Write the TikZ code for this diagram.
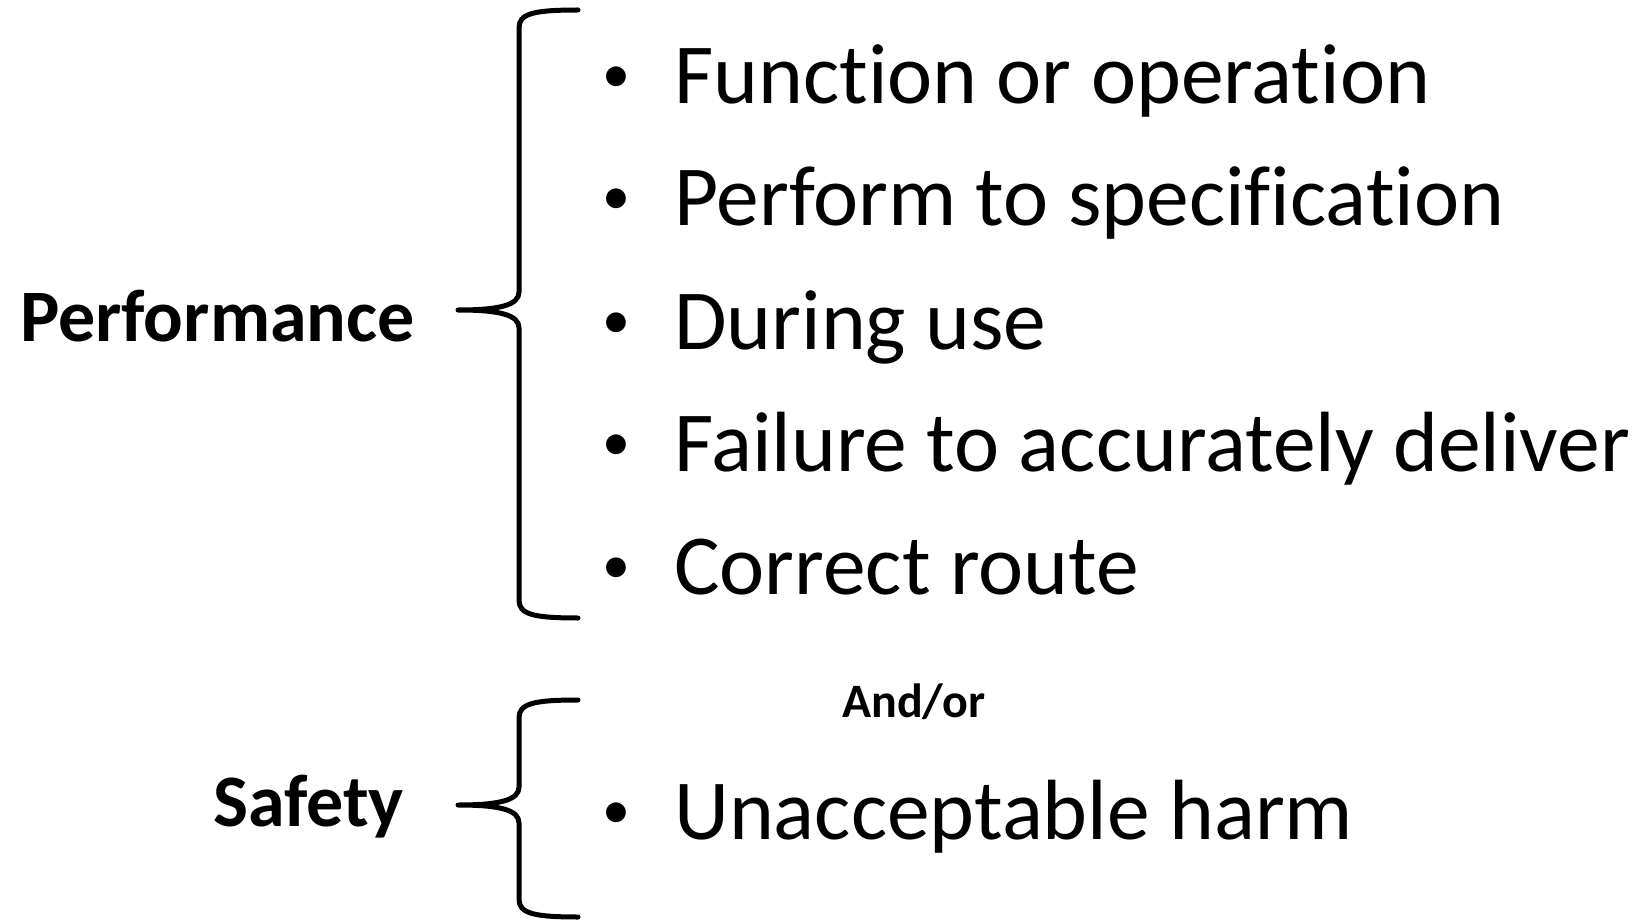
\documentclass[tikz,border=0pt]{standalone}
\usepackage{fontspec}
\setmainfont[Ligatures=NoCommon]{Carlito}
\begin{document}
\begin{tikzpicture}[x=1pt,y=-1pt,
  item/.style={anchor=base west,inner sep=0pt,font=\fontsize{85.5}{100}\selectfont},
  bul/.style={anchor=base,inner sep=0pt,font=\fontsize{56}{60}\selectfont},
  head/.style={anchor=base east,inner sep=0pt,font=\fontsize{74}{90}\selectfont\bfseries},
  brace/.style={line width=5pt,line cap=round,line join=round}]
\useasboundingbox (0,0) rectangle (1634,920);
% items
\foreach \n/\y/\t in {1/104/Function or operation,2/226/Perform to specification,3/349/During use,4/471/Failure to accurately deliver,5/594/Correct route,6/839/Unacceptable harm}{
  \node[bul] (b\n) at (616,\y-11) {•};
  \node[item] (i\n) at (674,\y) {\t};
}
\node[head] (perf) at (415,341) {Performance};
\node[head] (saf) at (404,826) {Safety};
\node[anchor=base west,inner sep=0pt,font=\fontsize{48}{60}\selectfont\bfseries] (andor) at (842,717) {And/or};
% braces
\coordinate (t1) at (458,310);
\coordinate (t2) at (458,805);
\draw[brace] (578,10) .. controls (532,10) and (519,14) .. (519,28) -- (519,292)
  .. controls (519,305) and (500,310) .. (t1)
  .. controls (500,310) and (519,315) .. (519,328) -- (519,600)
  .. controls (519,614) and (532,618) .. (578,618);
\draw[brace] (578,700) .. controls (532,700) and (519,704) .. (519,718) -- (519,787)
  .. controls (519,800) and (500,805) .. (t2)
  .. controls (500,805) and (519,810) .. (519,823) -- (519,899)
  .. controls (519,913) and (532,917) .. (578,917);
\end{tikzpicture}
\end{document}
